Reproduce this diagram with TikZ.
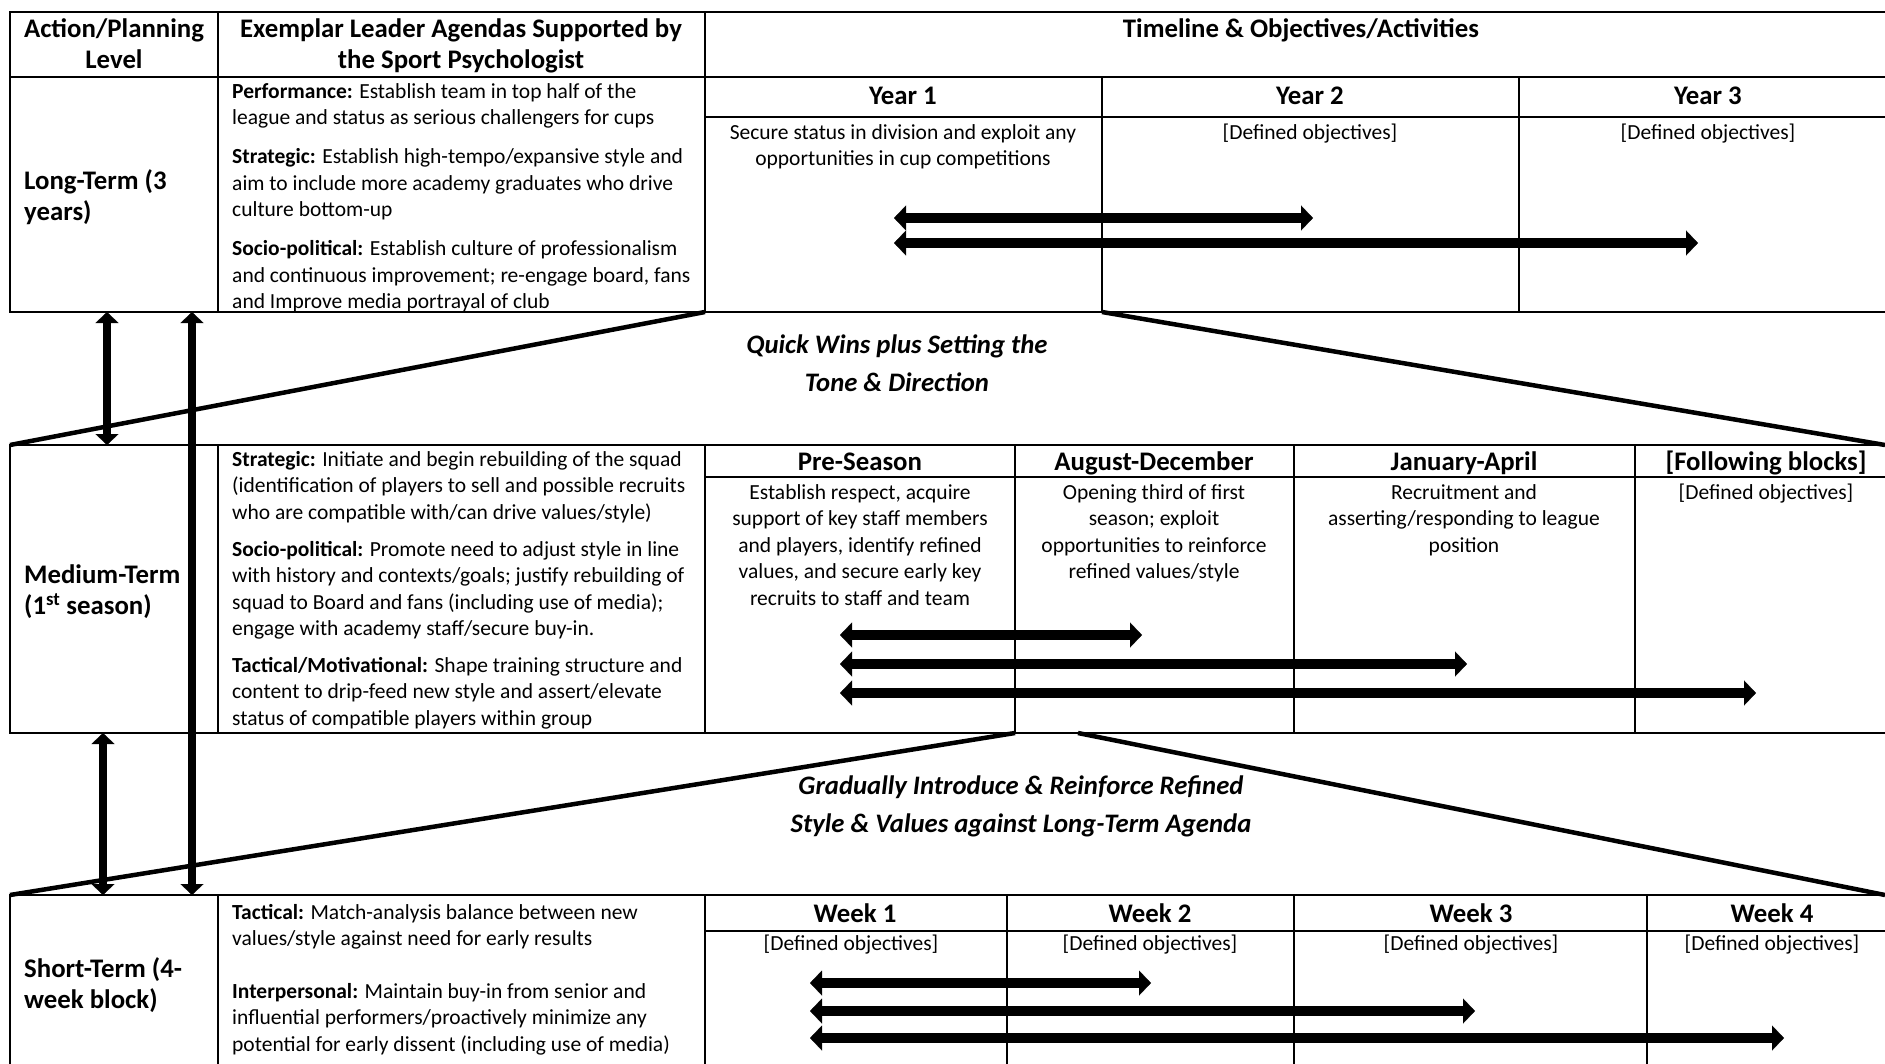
\documentclass[tikz,border=0pt]{standalone}
\usepackage{fontspec}
\setmainfont{Carlito}
\usetikzlibrary{arrows.meta}
\newcommand\mycenter[2]{\parbox[t]{#1}{\centering #2}}
\newcommand\myleft[2]{\parbox[t]{#1}{\raggedright #2}}
\begin{document}
\begin{tikzpicture}[x=1pt,y=-1pt,
  grid/.style={line width=1.8pt, line cap=rect},
  diag/.style={line width=4.5pt},
  hbar/.style={line width=10pt, {Triangle[length=12pt,width=25pt,line width=0.1pt]}-{Triangle[length=12pt,width=25pt,line width=0.1pt]}},
  vbar/.style={line width=8.5pt, {Triangle[length=11pt,width=23pt,line width=0.1pt]}-{Triangle[length=11pt,width=23pt,line width=0.1pt]}},
  hd/.style={inner sep=0pt, font=\fontsize{26.8}{31}\selectfont\bfseries},
  bd/.style={inner sep=0pt, font=\fontsize{21.5}{26.4}\selectfont},
  tr/.style={inner sep=0pt, font=\fontsize{26.7}{38}\selectfont\bfseries\itshape},
]
\useasboundingbox (0,0) rectangle (1885,1063);
\clip (0,0) rectangle (1885,1063);
\fill[white] (0,0) rectangle (1885,1063);

% ---------- table grid ----------
% long-term block
\draw[grid] (10,12) -- (1900,12);
\draw[grid] (10,77) -- (1900,77);
\draw[grid] (705,117) -- (1900,117);
\draw[grid] (10,312) -- (1900,312);
\draw[grid] (10,12) -- (10,312);
\draw[grid] (218,12) -- (218,312);
\draw[grid] (705,12) -- (705,312);
\draw[grid] (1102,77) -- (1102,312);
\draw[grid] (1519,77) -- (1519,312);
% medium-term block
\draw[grid] (10,445) -- (1900,445);
\draw[grid] (705,477) -- (1900,477);
\draw[grid] (10,733) -- (1900,733);
\draw[grid] (10,445) -- (10,733);
\draw[grid] (218,445) -- (218,733);
\draw[grid] (705,445) -- (705,733);
\draw[grid] (1015,445) -- (1015,733);
\draw[grid] (1294,445) -- (1294,733);
\draw[grid] (1635,445) -- (1635,733);
% short-term block
\draw[grid] (10,895) -- (1900,895);
\draw[grid] (705,931) -- (1900,931);
\draw[grid] (10,895) -- (10,1080);
\draw[grid] (218,895) -- (218,1080);
\draw[grid] (705,895) -- (705,1080);
\draw[grid] (1007,895) -- (1007,1080);
\draw[grid] (1294,895) -- (1294,1080);
\draw[grid] (1647,895) -- (1647,1080);

% ---------- zoom (funnel) lines ----------
\draw[diag] (705,312) -- (10,445);
\draw[diag] (1102,312) -- (1885,445);
\draw[diag] (1015,733) -- (10,895);
\draw[diag] (1078,733) -- (1885,895);

% ---------- vertical double arrows ----------
\draw[vbar] (107,312) -- (107,445);
\draw[vbar] (192,312) -- (192,895);
\draw[vbar] (103,733) -- (103,895);

% ---------- timeline bars ----------
\draw[hbar] (894,218) -- (1313,218);
\draw[hbar] (894,243) -- (1698,243);
\draw[hbar] (840,635) -- (1142,635);
\draw[hbar] (840,664) -- (1467,664);
\draw[hbar] (840,693) -- (1756,693);
\draw[hbar] (810,983) -- (1151,983);
\draw[hbar] (810,1011) -- (1475,1011);
\draw[hbar] (810,1038) -- (1784,1038);

% ---------- header ----------
\node[hd, anchor=base] (h1) at (114,37.5) {\mycenter{205pt}{Action/Planning\\Level}};
\node[hd, anchor=base] (h2) at (461,37.5) {\mycenter{485pt}{Exemplar Leader Agendas Supported by\\the Sport Psychologist}};
\node[hd, anchor=base] (h3) at (1301,37.5) {Timeline \& Objectives/Activities};

% ---------- long-term ----------
\node[hd, anchor=base west] (lt) at (24,189.5) {\myleft{200pt}{Long-Term (3\\years)}};
\node[bd, anchor=base west] (lta) at (232,98.5) {\myleft{520pt}{\textbf{Performance:} Establish team in top half of the\\league and status as serious challengers for cups\\[12.6pt]\textbf{Strategic:} Establish high-tempo/expansive style and\\aim to include more academy graduates who drive\\culture bottom-up\\[12.6pt]\textbf{Socio-political:} Establish culture of professionalism\\and continuous improvement; re-engage board, fans\\and Improve media portrayal of club}};
\node[hd, anchor=base] (y1) at (903,104.5) {Year 1};
\node[hd, anchor=base] (y2) at (1310,104.5) {Year 2};
\node[hd, anchor=base] (y3) at (1708,104.5) {Year 3};
\node[bd, anchor=base] (y1t) at (903,139.5) {\mycenter{420pt}{Secure status in division and exploit any\\opportunities in cup competitions}};
\node[bd, anchor=base] (y2t) at (1310,139.5) {[Defined objectives]};
\node[bd, anchor=base] (y3t) at (1708,139.5) {[Defined objectives]};

% ---------- transition 1 ----------
\node[tr, anchor=base] (q1) at (897,353) {\mycenter{560pt}{Quick Wins plus Setting the\\Tone \& Direction}};

% ---------- medium-term ----------
\node[hd, anchor=base west] (mt) at (24,583.5) {\myleft{220pt}{Medium-Term\\(1\textsuperscript{st} season)}};
\node[bd, anchor=base west] (mta) at (232,466.5) {\myleft{520pt}{\textbf{Strategic:} Initiate and begin rebuilding of the squad\\(identification of players to sell and possible recruits\\who are compatible with/can drive values/style)\\[10.6pt]\textbf{Socio-political:} Promote need to adjust style in line\\with history and contexts/goals; justify rebuilding of\\squad to Board and fans (including use of media);\\engage with academy staff/secure buy-in.\\[10.6pt]\textbf{Tactical/Motivational:} Shape training structure and\\content to drip-feed new style and assert/elevate\\status of compatible players within group}};
\node[hd, anchor=base] (m1) at (860,470.5) {Pre-Season};
\node[hd, anchor=base] (m2) at (1154,470.5) {August-December};
\node[hd, anchor=base] (m3) at (1464,470.5) {January-April};
\node[hd, anchor=base] (m4) at (1766,470.5) {[Following blocks]};
\node[bd, anchor=base] (m1t) at (860,499.5) {\mycenter{330pt}{Establish respect, acquire\\support of key staff members\\and players, identify refined\\values, and secure early key\\recruits to staff and team}};
\node[bd, anchor=base] (m2t) at (1154,499.5) {\mycenter{300pt}{Opening third of first\\season; exploit\\opportunities to reinforce\\refined values/style}};
\node[bd, anchor=base] (m3t) at (1464,499.5) {\mycenter{360pt}{Recruitment and\\asserting/responding to league\\position}};
\node[bd, anchor=base] (m4t) at (1766,499.5) {[Defined objectives]};

% ---------- transition 2 ----------
\node[tr, anchor=base] (q2) at (1021,794) {\mycenter{640pt}{Gradually Introduce \& Reinforce Refined\\Style \& Values against Long-Term Agenda}};

% ---------- short-term ----------
\node[hd, anchor=base west] (st) at (24,977.5) {\myleft{200pt}{Short-Term (4-\\week block)}};
\node[bd, anchor=base west] (sta) at (232,919.5) {\myleft{540pt}{\textbf{Tactical:} Match-analysis balance between new\\values/style against need for early results\\[26pt]\textbf{Interpersonal:} Maintain buy-in from senior and\\influential performers/proactively minimize any\\potential for early dissent (including use of media)}};
\node[hd, anchor=base] (w1) at (855,922.5) {Week 1};
\node[hd, anchor=base] (w2) at (1150,922.5) {Week 2};
\node[hd, anchor=base] (w3) at (1471,922.5) {Week 3};
\node[hd, anchor=base] (w4) at (1772,922.5) {Week 4};
\node[bd, anchor=base] (w1t) at (851,950.5) {[Defined objectives]};
\node[bd, anchor=base] (w2t) at (1150,950.5) {[Defined objectives]};
\node[bd, anchor=base] (w3t) at (1471,950.5) {[Defined objectives]};
\node[bd, anchor=base] (w4t) at (1772,950.5) {[Defined objectives]};
\end{tikzpicture}
\end{document}
